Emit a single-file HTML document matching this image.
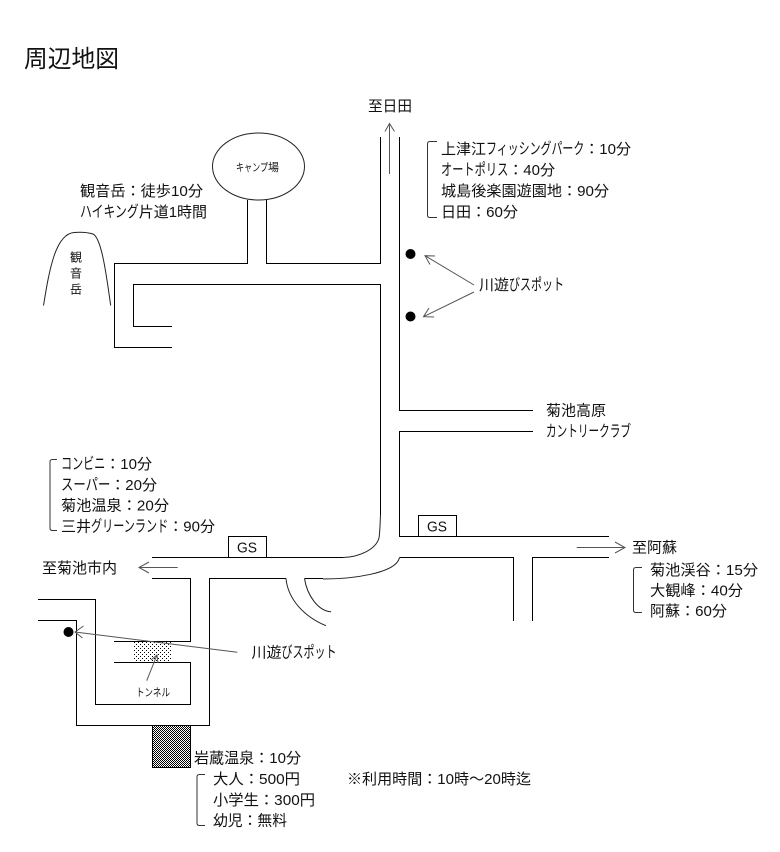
<!DOCTYPE html>
<html lang="ja"><head><meta charset="utf-8"><title>周辺地図</title>
<style>
html,body{margin:0;padding:0;background:#fff}
svg{display:block}
text{font-family:"Liberation Sans","Noto Sans CJK JP",sans-serif;font-size:15px;fill:#111}
text.k{font-size:16px}
.r{fill:none;stroke:#000;stroke-width:1;shape-rendering:crispEdges}
.c{fill:none;stroke:#222;stroke-width:1}
.a{fill:none;stroke:#555;stroke-width:1}
.b{fill:none;stroke:#333;stroke-width:1}
</style></head><body>
<svg xmlns="http://www.w3.org/2000/svg" width="780" height="852" viewBox="0 0 780 852">
<defs>
<pattern id="dots" width="4" height="4" patternUnits="userSpaceOnUse"><rect width="4" height="4" fill="#fff"/><rect x="0" y="0" width="1" height="1" fill="#000"/><rect x="2" y="2" width="1" height="1" fill="#000"/></pattern>
<pattern id="chk" width="2" height="2" patternUnits="userSpaceOnUse"><rect width="2" height="2" fill="#fff"/><rect width="1" height="1" fill="#000"/><rect x="1" y="1" width="1" height="1" fill="#000"/></pattern>
</defs>

<rect x="134" y="641" width="38" height="21" fill="url(#dots)"/>
<rect x="152.5" y="725.5" width="38" height="42" fill="url(#chk)" stroke="#000"/>

<!-- roads -->
<polyline class="r" points="247.5,200 247.5,263.5 114.5,263.5 114.5,347.5 172,347.5"/>
<polyline class="r" points="266.5,200 266.5,263.5 380.5,263.5 380.5,137"/>
<polyline class="r" points="172,326.5 133.5,326.5 133.5,284.5 380.5,284.5 380.5,515"/>
<polyline class="r" points="399.5,137 399.5,410.5 533,410.5"/>
<polyline class="r" points="533,431.5 399.5,431.5 399.5,536.5 609,536.5"/>
<polyline class="r" points="609,557.5 532.5,557.5 532.5,621"/>
<polyline class="r" points="513.5,621 513.5,557.5 399.5,557.5"/>
<polyline class="r" points="152,557.5 343,557.5"/>
<polyline class="r" points="152,578.5 190.5,578.5 190.5,641.5 114,641.5"/>
<polyline class="r" points="114,662.5 190.5,662.5 190.5,704.5 95.5,704.5 95.5,599.5 38,599.5"/>
<polyline class="r" points="286,578.5 209.5,578.5 209.5,725.5 76.5,725.5 76.5,620.5 38,620.5"/>
<polyline class="r" points="304.5,578.5 323,578.5"/>
<polyline class="r" points="228.5,557.5 228.5,536.5 266.5,536.5 266.5,557.5"/>
<polyline class="r" points="418.5,536.5 418.5,515.5 456.5,515.5 456.5,536.5"/>

<!-- curves -->
<path class="c" d="M380.5,515 C380,525 380,532 379,538 C376,549 360,557 343,557.5"/>
<path class="c" d="M323,579 C350,579 396,574 399.5,557.5"/>
<path class="c" d="M286,578.5 C288,600 305,617 326,625.7"/>
<path class="c" d="M304.5,578.5 C307,595 318,611 331,611.7"/>
<ellipse class="c" cx="258.5" cy="166.5" rx="46" ry="33.5"/>
<path class="c" d="M43.5,305.5 C49,272 55,234 74,232.5 C80,232 88,232.5 93,234 C102,238 107,280 110.7,305.5"/>

<!-- spots -->
<circle cx="410.5" cy="254" r="5" fill="#000"/>
<circle cx="410.5" cy="316.5" r="5" fill="#000"/>
<circle cx="68.5" cy="632" r="5" fill="#000"/>

<!-- arrows -->
<path class="a" d="M389.5,174V124M385,131.5L389.5,123.5L394.5,131.5"/>
<path class="a" d="M474,285L425,255.7M435,256L425,255.7L430,264.5"/>
<path class="a" d="M474,292L423.5,316.7M429,308L423.5,316.7L434,317"/>
<path class="a" d="M177.7,567.5H139M149,562L139,567.5L149,573"/>
<path class="a" d="M576.7,547.5H625M615,542L625,547.5L615,553"/>
<path class="a" d="M237.3,652.3L75,632M83.5,626L75,632L82.5,638"/>
<path class="a" d="M146.7,680.7L157,655M151,660L157,655L158,663"/>

<!-- brackets -->
<path class="b" d="M437,141.5H430Q427.5,141.5 427.5,144V215Q427.5,217.5 430,217.5H437"/>
<path class="b" d="M57,459.5H52.5Q50,459.5 50,462V528Q50,530.5 52.5,530.5H57"/>
<path class="b" d="M642,567.5H636Q633.5,567.5 633.5,570V610Q633.5,612.5 636,612.5H642"/>
<path class="b" d="M205,774.5H199.5Q197,774.5 197,777V823Q197,825.5 199.5,825.5H205"/>

<!-- labels -->
<text x="24" y="67" style="font-size:24px" textLength="95" lengthAdjust="spacingAndGlyphs">周辺地図</text>
<text x="368" y="111" textLength="44" lengthAdjust="spacingAndGlyphs">至日田</text>
<text x="80" y="196" textLength="123" lengthAdjust="spacingAndGlyphs">観音岳：徒歩10分</text>
<text class="k" x="80" y="217" textLength="58.7" lengthAdjust="spacingAndGlyphs">ハイキング</text>
<text x="138.7" y="217">片道1時間</text>
<text x="236" y="171" style="font-size:11px" textLength="32" lengthAdjust="spacingAndGlyphs">キャンプ</text>
<text x="268" y="171" style="font-size:11px">場</text>
<text x="70" y="261.5" style="font-size:12px">観</text>
<text x="70" y="277.5" style="font-size:12px">音</text>
<text x="70" y="293.5" style="font-size:12px">岳</text>

<text x="441" y="154">上津江</text>
<text class="k" x="486" y="154" textLength="98.3" lengthAdjust="spacingAndGlyphs">フィッシングパーク</text>
<text x="584.3" y="154">：10分</text>
<text class="k" x="441" y="175" textLength="67.3" lengthAdjust="spacingAndGlyphs">オートポリス</text>
<text x="508.3" y="175">：40分</text>
<text x="441" y="196" textLength="168" lengthAdjust="spacingAndGlyphs">城島後楽園遊園地：90分</text>
<text x="441" y="217" textLength="77" lengthAdjust="spacingAndGlyphs">日田：60分</text>

<text x="479" y="290">川遊</text>
<text class="k" x="509" y="290" textLength="55" lengthAdjust="spacingAndGlyphs">びスポット</text>
<text x="546" y="415.5" textLength="60" lengthAdjust="spacingAndGlyphs">菊池高原</text>
<text class="k" x="546" y="436.5" textLength="85" lengthAdjust="spacingAndGlyphs">カントリークラブ</text>

<text class="k" x="61" y="469" textLength="44.3" lengthAdjust="spacingAndGlyphs">コンビニ</text>
<text x="105.3" y="469">：10分</text>
<text class="k" x="61" y="490" textLength="49.3" lengthAdjust="spacingAndGlyphs">スーパー</text>
<text x="110.3" y="490">：20分</text>
<text x="61" y="510.5" textLength="108" lengthAdjust="spacingAndGlyphs">菊池温泉：20分</text>
<text x="61" y="531.5">三井</text>
<text class="k" x="91" y="531.5" textLength="77.3" lengthAdjust="spacingAndGlyphs">グリーンランド</text>
<text x="168.3" y="531.5">：90分</text>

<text x="237" y="552.5" textLength="20" lengthAdjust="spacingAndGlyphs">GS</text>
<text x="427" y="531.5" textLength="20" lengthAdjust="spacingAndGlyphs">GS</text>
<text x="42" y="573" textLength="75" lengthAdjust="spacingAndGlyphs">至菊池市内</text>
<text x="632" y="552.5" textLength="45" lengthAdjust="spacingAndGlyphs">至阿蘇</text>
<text x="650" y="575" textLength="108" lengthAdjust="spacingAndGlyphs">菊池渓谷：15分</text>
<text x="650" y="595.5" textLength="93" lengthAdjust="spacingAndGlyphs">大観峰：40分</text>
<text x="650" y="616" textLength="77" lengthAdjust="spacingAndGlyphs">阿蘇：60分</text>

<text x="251.5" y="657.5">川遊</text>
<text class="k" x="281.5" y="657.5" textLength="55" lengthAdjust="spacingAndGlyphs">びスポット</text>
<text x="136" y="696" style="font-size:11px" textLength="34" lengthAdjust="spacingAndGlyphs">トンネル</text>

<text x="194" y="763" textLength="107" lengthAdjust="spacingAndGlyphs">岩蔵温泉：10分</text>
<text x="213" y="784" textLength="87" lengthAdjust="spacingAndGlyphs">大人：500円</text>
<text x="213" y="805" textLength="102" lengthAdjust="spacingAndGlyphs">小学生：300円</text>
<text x="213" y="825.5" textLength="74" lengthAdjust="spacingAndGlyphs">幼児：無料</text>
<text x="347" y="784" textLength="184" lengthAdjust="spacingAndGlyphs">※利用時間：10時～20時迄</text>
</svg>
</body></html>
